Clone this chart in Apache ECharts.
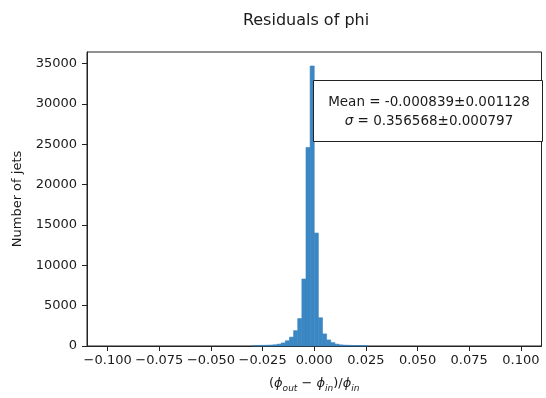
<!DOCTYPE html>
<html>
<head>
<meta charset="utf-8">
<script src="https://cdn.jsdelivr.net/npm/echarts@6/dist/echarts.min.js"></script>
<style>
  html, body { margin: 0; padding: 0; background: #fff; }
  #chart { width: 546px; height: 398px; }
</style>
</head>
<body>
<div id="chart"></div>
<script>
// ---- data ----
const binLeft = [
  -0.030, -0.028, -0.026, -0.024, -0.022, -0.020, -0.018, -0.016, -0.014, -0.012,
  -0.010, -0.008, -0.006, -0.004, -0.002, 0.000, 0.002, 0.004, 0.006, 0.008,
  0.010, 0.012, 0.014, 0.016, 0.018, 0.020, 0.022, 0.024
];
const binWidth = 0.002;
const counts = [
  60, 70, 80, 90, 110, 150, 230, 380, 650, 1100,
  1900, 3400, 8300, 24600, 34700, 14000, 3500, 1500, 750, 420,
  230, 140, 100, 80, 65, 55, 45, 35
];
const xTicks = [-0.100, -0.075, -0.050, -0.025, 0.000, 0.025, 0.050, 0.075, 0.100];
const yTicks = [0, 5000, 10000, 15000, 20000, 25000, 30000, 35000];
const titleText = 'Residuals of phi';
const yName = 'Number of jets';
const statLines = ['Mean = -0.000839\u00b10.001128', '0.356568\u00b10.000797'];

const FONT = 'DejaVu Sans';
const TXT = '#1a1a1a';
const barColor = '#3b87c3';
const yMax = Math.max(...counts) * 1.05;

const data = binLeft.map((l, i) => [l, l + binWidth, counts[i]]);

const chart = echarts.init(document.getElementById('chart'), null, { renderer: 'canvas' });

const option = {
  animation: false,
  backgroundColor: '#ffffff',
  grid: {
    left: 87, right: 4.5, top: 52, bottom: 52,
    show: true, borderColor: '#222', borderWidth: 1, backgroundColor: 'transparent'
  },
  xAxis: {
    type: 'value',
    min: -0.11, max: 0.11,
    axisLine: { show: true, onZero: false, lineStyle: { color: '#222', width: 1 } },
    axisTick: { show: true, length: 5, inside: false, customValues: xTicks, lineStyle: { color: '#222' } },
    axisLabel: {
      customValues: xTicks,
      margin: 8,
      color: TXT, fontFamily: FONT, fontSize: 13,
      formatter: v => (v < -1e-9 ? '\u2212' : '') + Math.abs(v).toFixed(3)
    },
    splitLine: { show: false },
    name: '{u|(}{p|\u03d5}{s|out}{u| \u2212 }{p|\u03d5}{s|in}{u|)/}{p|\u03d5}{s|in}',
    nameLocation: 'middle',
    nameGap: 29,
    nameTextStyle: {
      rich: {
        u: { fontFamily: FONT, fontSize: 13, color: TXT, lineHeight: 18, verticalAlign: 'middle' },
        p: { fontFamily: FONT, fontSize: 13, color: TXT, lineHeight: 18, fontStyle: 'italic', verticalAlign: 'middle' },
        s: { fontFamily: FONT, fontSize: 9, color: TXT, lineHeight: 9, fontStyle: 'italic', verticalAlign: 'bottom' }
      }
    }
  },
  yAxis: {
    type: 'value',
    min: 0, max: yMax,
    axisLine: { show: true, onZero: false, lineStyle: { color: '#222', width: 1 } },
    axisTick: { show: true, length: 5, inside: false, customValues: yTicks, lineStyle: { color: '#222' } },
    axisLabel: {
      customValues: yTicks,
      margin: 10,
      color: TXT, fontFamily: FONT, fontSize: 13,
      formatter: v => String(Math.round(v))
    },
    splitLine: { show: false },
    name: yName,
    nameLocation: 'middle',
    nameGap: 63,
    nameRotate: 90,
    nameTextStyle: { fontFamily: FONT, fontSize: 13, color: TXT }
  },
  series: [{
    type: 'custom',
    data: data,
    encode: { x: [0, 1], y: 2 },
    renderItem: function (params, api) {
      const x0 = api.value(0), x1 = api.value(1), y = api.value(2);
      const pTop = api.coord([x0, y]);
      const pBot = api.coord([x1, 0]);
      return {
        type: 'rect',
        shape: { x: pTop[0], y: pTop[1], width: pBot[0] - pTop[0], height: pBot[1] - pTop[1] },
        style: { fill: barColor, stroke: barColor, lineWidth: 0.6 }
      };
    }
  }],
  graphic: [
    {
      type: 'text', x: 306, y: 21, z: 10,
      style: { text: titleText, fontFamily: FONT, fontSize: 16, fill: TXT, textAlign: 'center', textVerticalAlign: 'middle' }
    },
    {
      type: 'rect', z: 20,
      shape: { x: 313.5, y: 80.5, width: 229, height: 61 },
      style: { fill: '#ffffff', stroke: '#222', lineWidth: 1 }
    },
    {
      type: 'text', x: 429, y: 102, z: 21,
      style: { text: statLines[0], fontFamily: FONT, fontSize: 13.5, fill: TXT, textAlign: 'center', textVerticalAlign: 'middle' }
    },
    {
      type: 'text', x: 429, y: 121, z: 21,
      style: {
        text: '{g|\u03c3} = ' + statLines[1],
        fontFamily: FONT, fontSize: 13.5, fill: TXT, textAlign: 'center', textVerticalAlign: 'middle',
        rich: { g: { fontFamily: FONT, fontSize: 13.5, fontStyle: 'italic', fill: TXT } }
      }
    }
  ]
};

chart.setOption(option);
</script>
</body>
</html>
